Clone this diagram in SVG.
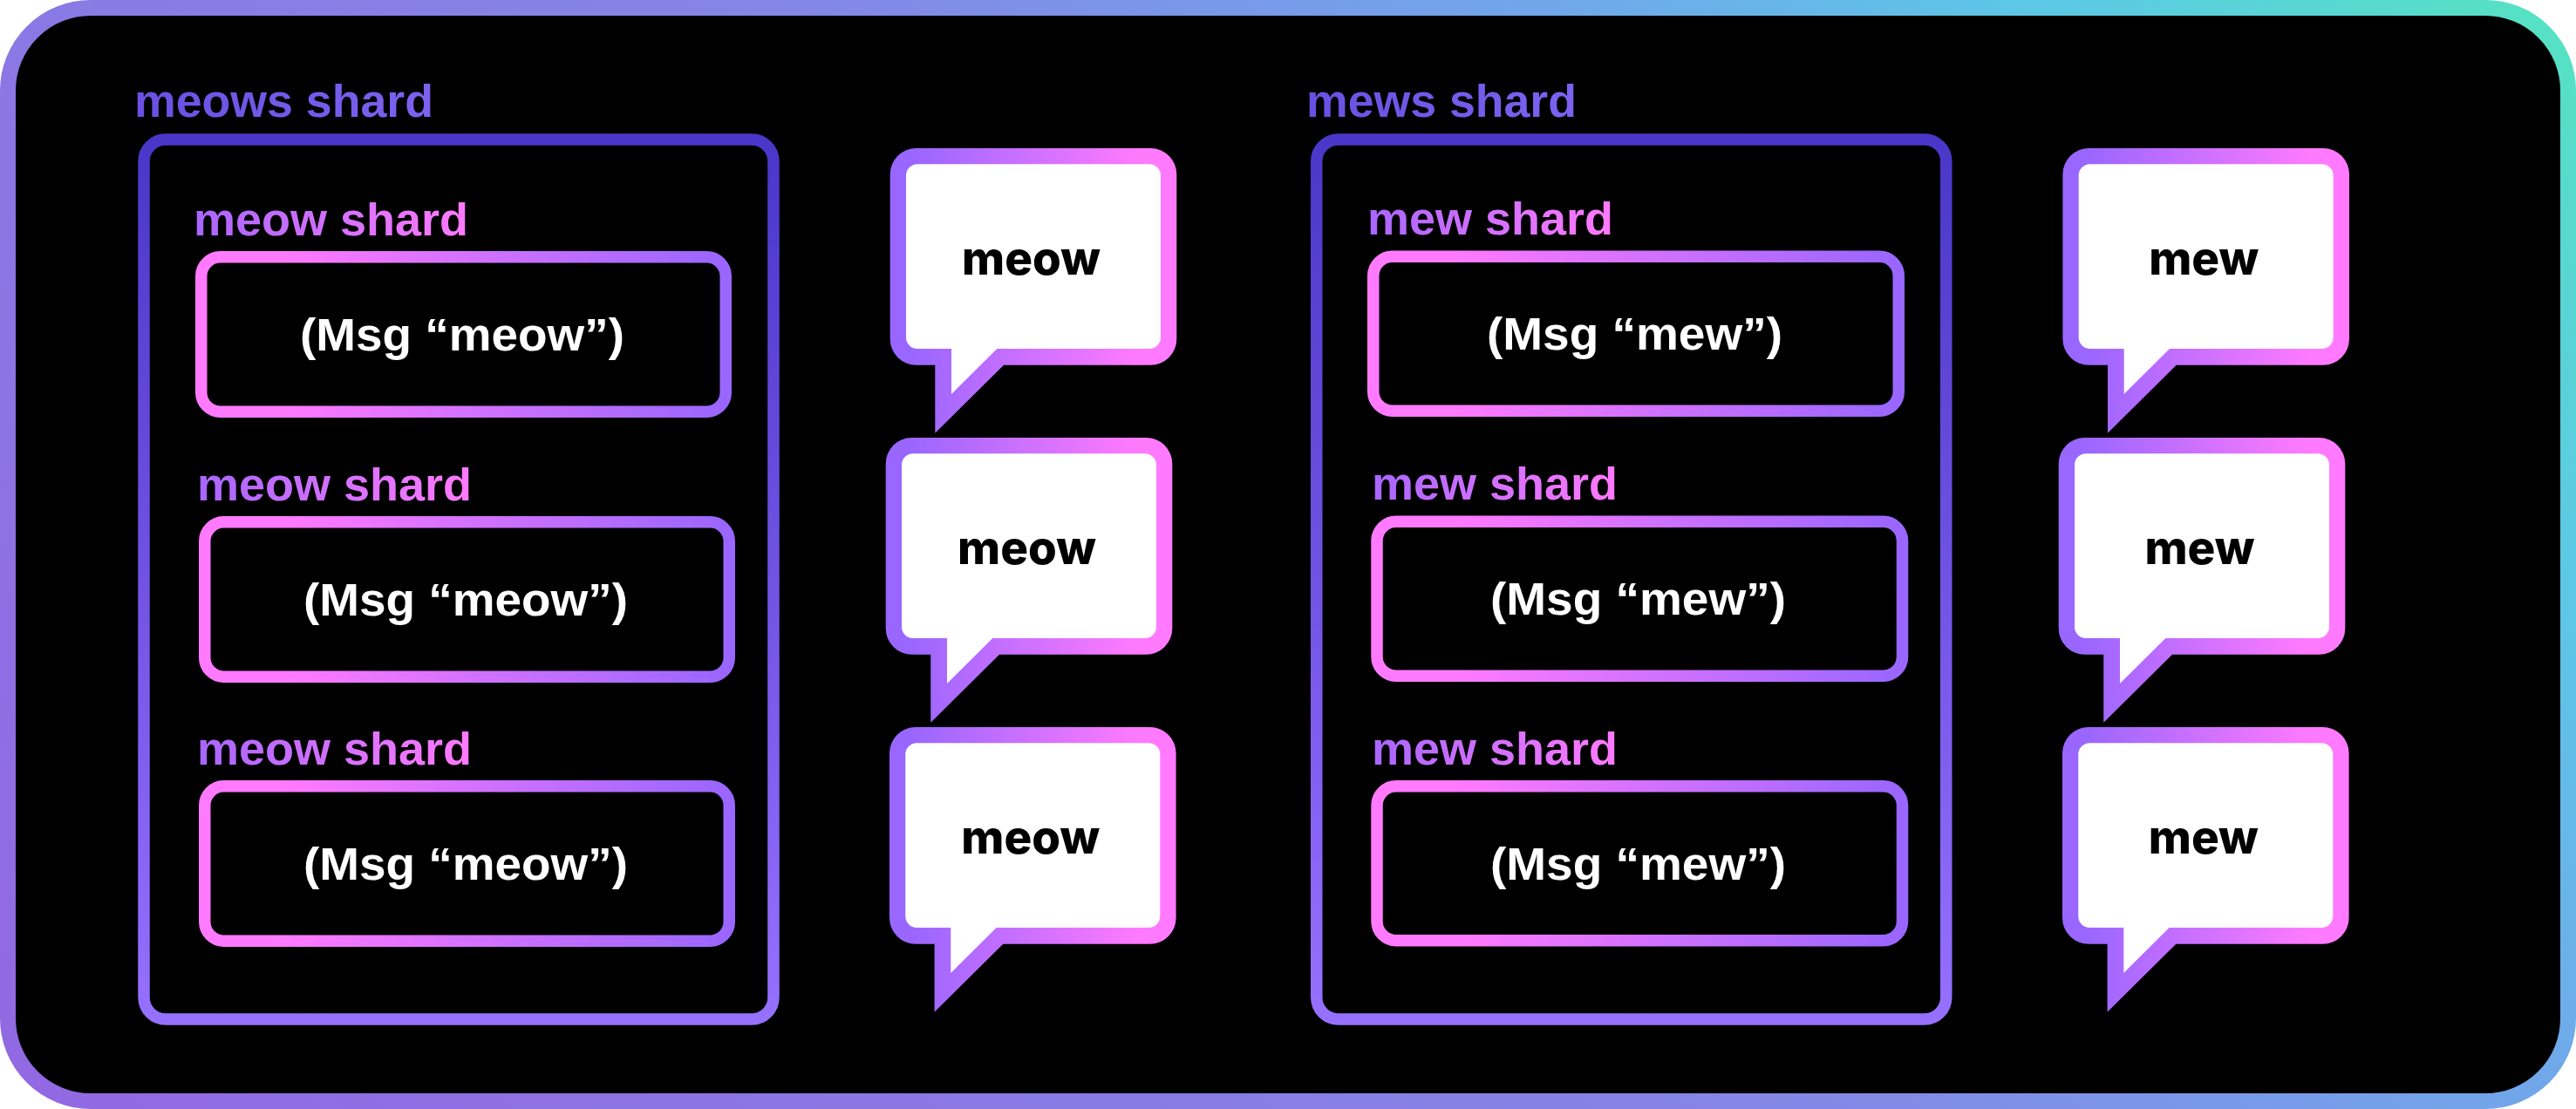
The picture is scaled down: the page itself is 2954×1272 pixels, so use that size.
<svg xmlns="http://www.w3.org/2000/svg" width="2954" height="1272" viewBox="0 0 2954 1272">
<style>
text{font-family:"Liberation Sans","Inter",sans-serif;font-size:51px;font-weight:700}
.shardset{fill:url(#gSet)}
.shard{fill:url(#gLabel)}
.msg{fill:#fff}
.say{font-family:"Inter","Liberation Sans",sans-serif;font-size:53px;font-weight:800;fill:#000;text-anchor:middle}
.set{fill:#000;stroke:url(#gColumn);stroke-width:13.5}
.box{fill:#000;stroke:url(#gBox);stroke-width:13.5}
</style>
<defs>
<linearGradient id="gFrame" gradientUnits="userSpaceOnUse" x1="0" y1="1272" x2="2250" y2="-774">
<stop offset="0" stop-color="#9268e2"/><stop offset=".5" stop-color="#8486e6"/><stop offset=".72" stop-color="#70a8ea"/><stop offset=".85" stop-color="#5cc8e6"/><stop offset="1" stop-color="#55e4c0"/>
</linearGradient>
<linearGradient id="gColumn" x1="0" y1="0" x2="0" y2="1"><stop offset="0" stop-color="#4a36c8"/><stop offset="1" stop-color="#9670ff"/></linearGradient>
<linearGradient id="gBox" x1="0" y1="0" x2="1" y2="0"><stop offset=".15" stop-color="#ff7aff"/><stop offset="1" stop-color="#9966ff"/></linearGradient>
<linearGradient id="gLabel" x1="0" y1="0" x2="1" y2="0"><stop offset="0" stop-color="#a866ff"/><stop offset="1" stop-color="#ff7aff"/></linearGradient>
<linearGradient id="gSet" x1="0" y1="0" x2="1" y2="0"><stop offset="0" stop-color="#6a50e2"/><stop offset="1" stop-color="#7c62f0"/></linearGradient>
<linearGradient id="gBubble" gradientUnits="userSpaceOnUse" x1="25" y1="0" x2="285" y2="0"><stop offset="0" stop-color="#9966ff"/><stop offset="1" stop-color="#ff7aff"/></linearGradient>
<g id="bubble">
<path fill="url(#gBubble)" d="M30 0H298.6A30 30 0 0 1 328.6 30V218.7A30 30 0 0 1 298.6 248.7H130.3L51.6 326.7V248.7H30A30 30 0 0 1 0 218.7V30A30 30 0 0 1 30 0Z"/>
<path fill="#fff" d="M31.3 18.3H297.3A13 13 0 0 1 310.3 31.3V217A13 13 0 0 1 297.3 230H122.6L70.3 282V230H31.3A13 13 0 0 1 18.3 217V31.3A13 13 0 0 1 31.3 18.3Z"/>
</g>
</defs>
<rect id="frame" x="9" y="9" width="2936" height="1254" rx="95" ry="95" fill="#000" stroke="url(#gFrame)" stroke-width="18"/>
<g id="connectors"/>
<g id="meows-shard">
<text class="shardset" x="154" y="134" textLength="343" lengthAdjust="spacingAndGlyphs">meows shard</text>
<rect class="set" x="165" y="160" width="722" height="1009" rx="25"/>
</g>
<g id="meow-shard-1"><text class="shard" x="222" y="270" textLength="315" lengthAdjust="spacingAndGlyphs">meow shard</text><rect class="box" x="230.75" y="294.75" width="601.5" height="177.5" rx="22"/><text class="msg" x="344" y="402" textLength="372" lengthAdjust="spacingAndGlyphs">(Msg “meow”)</text></g>
<g id="meow-shard-2"><text class="shard" x="226" y="574" textLength="315" lengthAdjust="spacingAndGlyphs">meow shard</text><rect class="box" x="234.75" y="598.75" width="601.5" height="177.5" rx="22"/><text class="msg" x="348" y="706" textLength="372" lengthAdjust="spacingAndGlyphs">(Msg “meow”)</text></g>
<g id="meow-shard-3"><text class="shard" x="226" y="877" textLength="315" lengthAdjust="spacingAndGlyphs">meow shard</text><rect class="box" x="234.75" y="901.75" width="601.5" height="177.5" rx="22"/><text class="msg" x="348" y="1009" textLength="372" lengthAdjust="spacingAndGlyphs">(Msg “meow”)</text></g>
<g id="say-meow-1" transform="translate(1020.7 170)"><use href="#bubble"/><text class="say" x="161.8" y="145">meow</text></g>
<g id="say-meow-2" transform="translate(1015.7 502)"><use href="#bubble"/><text class="say" x="161.8" y="145">meow</text></g>
<g id="say-meow-3" transform="translate(1020 834)"><use href="#bubble"/><text class="say" x="161.8" y="145">meow</text></g>
<g id="mews-shard">
<text class="shardset" x="1498" y="134" textLength="310" lengthAdjust="spacingAndGlyphs">mews shard</text>
<rect class="set" x="1509.75" y="160" width="722" height="1009" rx="25"/>
</g>
<g id="mew-shard-1"><text class="shard" x="1568" y="269" textLength="282" lengthAdjust="spacingAndGlyphs">mew shard</text><rect class="box" x="1574.75" y="294.25" width="602.5" height="177" rx="22"/><text class="msg" x="1705" y="401" textLength="339" lengthAdjust="spacingAndGlyphs">(Msg “mew”)</text></g>
<g id="mew-shard-2"><text class="shard" x="1573" y="573" textLength="282" lengthAdjust="spacingAndGlyphs">mew shard</text><rect class="box" x="1579" y="598.25" width="602.5" height="177" rx="22"/><text class="msg" x="1709" y="705" textLength="339" lengthAdjust="spacingAndGlyphs">(Msg “mew”)</text></g>
<g id="mew-shard-3"><text class="shard" x="1573" y="877" textLength="282" lengthAdjust="spacingAndGlyphs">mew shard</text><rect class="box" x="1579" y="901.75" width="602.5" height="177" rx="22"/><text class="msg" x="1709" y="1009" textLength="339" lengthAdjust="spacingAndGlyphs">(Msg “mew”)</text></g>
<g id="say-mew-1" transform="translate(2365.4 170)"><use href="#bubble"/><text class="say" x="161.8" y="145">mew</text></g>
<g id="say-mew-2" transform="translate(2360.7 502)"><use href="#bubble"/><text class="say" x="161.8" y="145">mew</text></g>
<g id="say-mew-3" transform="translate(2365 834)"><use href="#bubble"/><text class="say" x="161.8" y="145">mew</text></g>
</svg>
